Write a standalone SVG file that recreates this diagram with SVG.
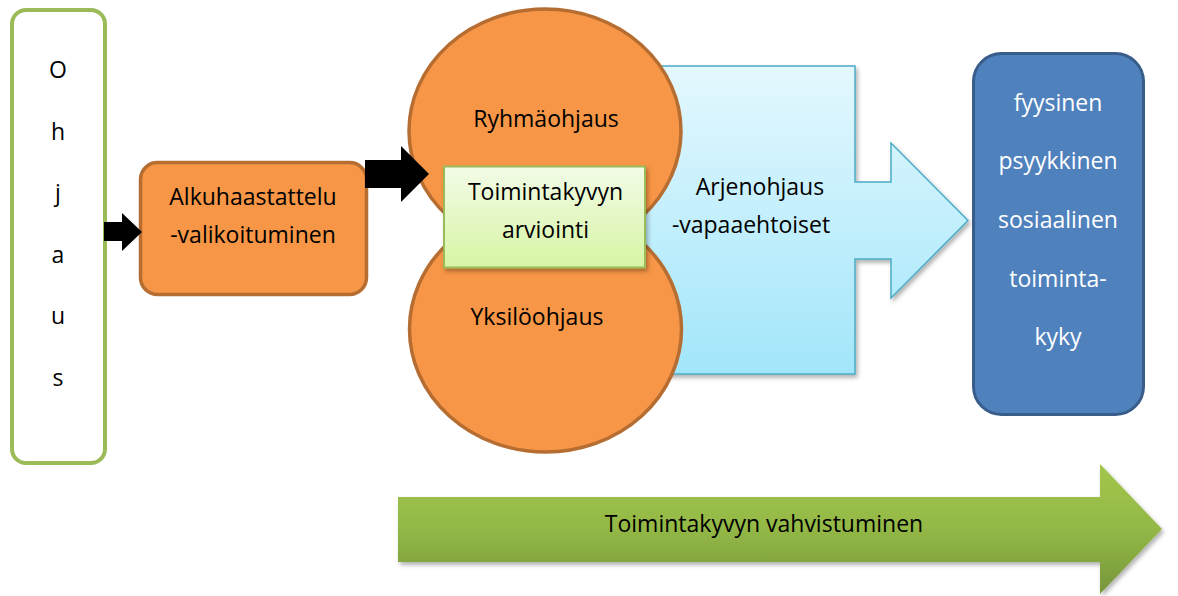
<svg xmlns="http://www.w3.org/2000/svg" width="1178" height="596" viewBox="0 0 1178 596">
<defs>
<style>
text{font-family:"Open Sans","Liberation Sans",sans-serif;font-size:23px;fill:#000;text-anchor:middle}
.w{fill:#fff}
.orange{fill:#F79646;stroke:#B66D31;stroke-width:3.5}
.blk{fill:#000}
</style>
<linearGradient id="gGreenBox" x1="0" y1="0" x2="0" y2="1">
<stop offset="0" stop-color="#F2FBE7"/>
<stop offset="1" stop-color="#D7F5A4"/>
</linearGradient>
<linearGradient id="gBlue" x1="0" y1="0" x2="0" y2="1">
<stop offset="0" stop-color="#E4F8FE"/>
<stop offset="1" stop-color="#A2E6FA"/>
</linearGradient>
<linearGradient id="gGreen" x1="0" y1="0" x2="0" y2="1">
<stop offset="0" stop-color="#A3C64C"/>
<stop offset="0.5" stop-color="#93B846"/>
<stop offset="1" stop-color="#76963A"/>
</linearGradient>
<filter id="sh" x="-10%" y="-10%" width="130%" height="130%">
<feDropShadow dx="2" dy="3" stdDeviation="2" flood-color="#000" flood-opacity="0.3"/>
</filter>
</defs>

<g id="vahvistuminen">
<path d="M398,497 H1100 V464 L1162,529 L1100,594 V562 H398 Z" fill="url(#gGreen)" filter="url(#sh)"/>
<text x="764" y="532">Toimintakyvyn vahvistuminen</text>
</g>

<g id="arjenohjaus">
<path d="M630,66 H855 V182 H891 V143 L968,220.5 L891,298 V259 H855 V374 H630 Z" fill="url(#gBlue)" stroke="#4BACC6" stroke-width="1.5" filter="url(#sh)"/>
<text x="760" y="195">Arjenohjaus</text>
<text x="751" y="233">-vapaaehtoiset</text>
</g>

<g id="ohjaus">
<rect x="12" y="10" width="93" height="453" rx="14" fill="#fff" stroke="#9BBB59" stroke-width="4"/>
<text x="58" y="78">O</text>
<text x="58" y="139.5">h</text>
<text x="58" y="201">j</text>
<text x="58" y="262.5">a</text>
<text x="58" y="324">u</text>
<text x="58" y="385.5">s</text>
</g>

<g id="alkuhaastattelu">
<rect class="orange" x="140.5" y="162.5" width="226" height="132" rx="17"/>
<text x="253" y="205">Alkuhaastattelu</text>
<text x="253" y="243">-valikoituminen</text>
</g>

<g id="yksiloohjaus">
<ellipse class="orange" cx="545.5" cy="329" rx="136" ry="123"/>
<text x="537" y="325">Yksilöohjaus</text>
</g>

<g id="ryhmaohjaus">
<ellipse class="orange" cx="545" cy="131" rx="136" ry="122"/>
<text x="546" y="127">Ryhmäohjaus</text>
</g>

<g id="connectors">
<path class="blk" d="M104,222 H122 V213 L142,232 L122,251 V241 H104 Z"/>
<path class="blk" d="M365,160 H401 V146 L429,174 L401,202 V188 H365 Z"/>
</g>

<g id="arviointi">
<rect x="444" y="166.5" width="201" height="101" fill="url(#gGreenBox)" stroke="#9BBB59" stroke-width="2" filter="url(#sh)"/>
<text x="545.5" y="200">Toimintakyvyn</text>
<text x="545.5" y="238">arviointi</text>
</g>

<g id="toimintakyky">
<rect x="973.5" y="53.5" width="170" height="361" rx="28" fill="#4F81BD" stroke="#385D8A" stroke-width="3"/>
<text class="w" x="1058" y="111">fyysinen</text>
<text class="w" x="1058" y="169">psyykkinen</text>
<text class="w" x="1058" y="228">sosiaalinen</text>
<text class="w" x="1058" y="287">toiminta-</text>
<text class="w" x="1058" y="345">kyky</text>
</g>
</svg>
